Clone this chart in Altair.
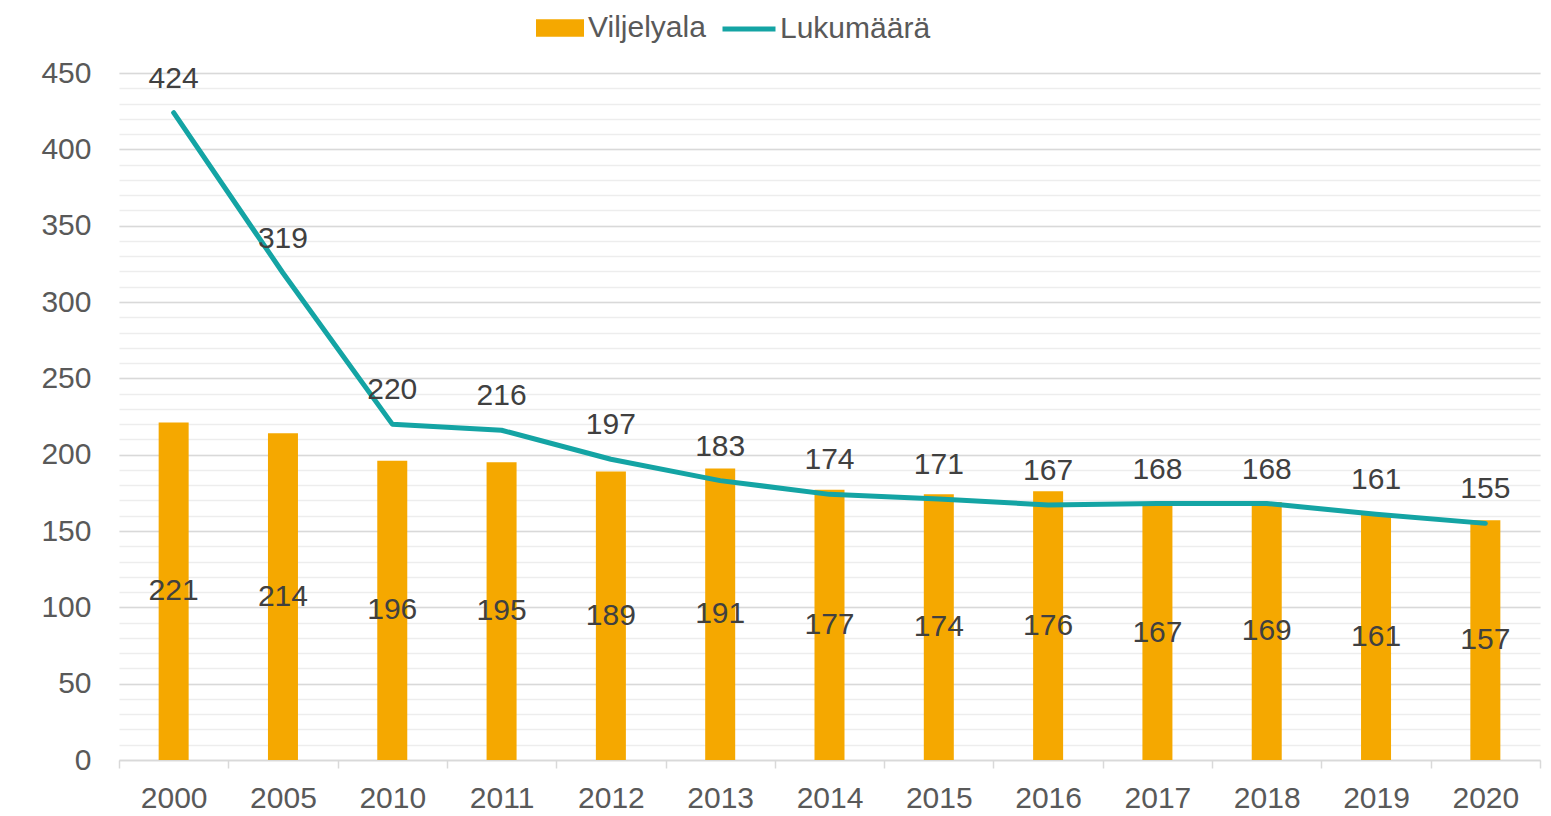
import altair as alt
import pandas as pd

years = ["2000", "2005", "2010", "2011", "2012", "2013", "2014", "2015", "2016", "2017", "2018", "2019", "2020"]
viljelyala = [221, 214, 196, 195, 189, 191, 177, 174, 176, 167, 169, 161, 157]
lukumaara = [424, 319, 220, 216, 197, 183, 174, 171, 167, 168, 168, 161, 155]

df = pd.DataFrame({"year": years, "bar": viljelyala, "line": lukumaara})
df["s1"] = "Viljelyala"
df["s2"] = "Lukumäärä"

FONT = "Liberation Sans"
FS = 30
BAR_C = "#F5A800"
LINE_C = "#14A4A4"
TXT = "#595959"
VAL = "#404040"

yscale = alt.Scale(domain=[0, 450], nice=False)
xaxis = alt.Axis(labelAngle=0, labelFontSize=FS, labelColor=TXT, labelFont=FONT,
                 tickBand="extent", tickSize=8, tickColor="#d9d9d9", tickWidth=1.5,
                 domainColor="#d9d9d9", domainWidth=1.5, labelPadding=15, grid=False,
                 gridOpacity=0)
xenc = alt.X("year:N", sort=years, title=None, axis=xaxis,
             scale=alt.Scale(paddingInner=0, paddingOuter=0))

base = alt.Chart(df)

bars = base.mark_bar(size=30).encode(
    x=xenc,
    y=alt.Y("bar:Q", scale=yscale, title=None,
            axis=alt.Axis(orient="left", values=list(range(0, 451, 10)), labels=False, ticks=False,
                          domain=False, grid=True, gridColor="#ededed", gridWidth=1.5)),
    color=alt.Color("s1:N", title=None,
                    scale=alt.Scale(domain=["Viljelyala"], range=[BAR_C]),
                    legend=alt.Legend(orient="none", legendX=417, legendY=-69,
                                      symbolType="M-1,-0.36H1V0.36H-1Z", symbolSize=2304,
                                      labelFontSize=FS, labelFont=FONT, labelColor=TXT,
                                      labelOffset=4, symbolStrokeWidth=0, symbolOpacity=1)),
)

line = base.mark_line(strokeWidth=5, strokeCap="round", strokeJoin="round").encode(
    x=xenc,
    y=alt.Y("line:Q", scale=yscale, title=None,
            axis=alt.Axis(orient="left", values=list(range(0, 451, 50)), labelFontSize=FS,
                          labelColor=TXT, labelFont=FONT, ticks=False, domain=False,
                          labelPadding=28, grid=True, gridColor="#d9d9d9", gridWidth=1.5)),
    color=alt.Color("s2:N", title=None,
                    scale=alt.Scale(domain=["Lukumäärä"], range=[LINE_C]),
                    legend=alt.Legend(orient="none", legendX=601, legendY=-73,
                                      symbolType="stroke", symbolSize=2809, symbolStrokeWidth=5,
                                      labelFontSize=FS, labelFont=FONT, labelColor=TXT,
                                      labelOffset=2)),
)

bar_text = base.transform_calculate(half="datum.bar / 2").mark_text(
    fontSize=FS, font=FONT, color=VAL, baseline="middle").encode(
    x=xenc,
    y=alt.Y("half:Q", scale=yscale, axis=None),
    text="bar:Q",
)

line_text = base.mark_text(fontSize=FS, font=FONT, color=VAL, baseline="middle", dy=-34).encode(
    x=xenc,
    y=alt.Y("line:Q", scale=yscale, axis=None),
    text="line:Q",
)

chart = alt.layer(bars, line, bar_text, line_text).resolve_scale(
    color="independent").resolve_axis(y="independent").properties(
    width=1421, height=687,
    autosize=alt.AutoSizeParams(type="none"),
    padding={"left": 111, "top": 65, "right": 3, "bottom": 48}
).configure_view(strokeWidth=0, stroke="transparent").configure(
    background="white", style={"cell": {"stroke": "transparent", "strokeWidth": 0}})

chart.save("out.html", embed_options={"renderer": "svg", "actions": False})
